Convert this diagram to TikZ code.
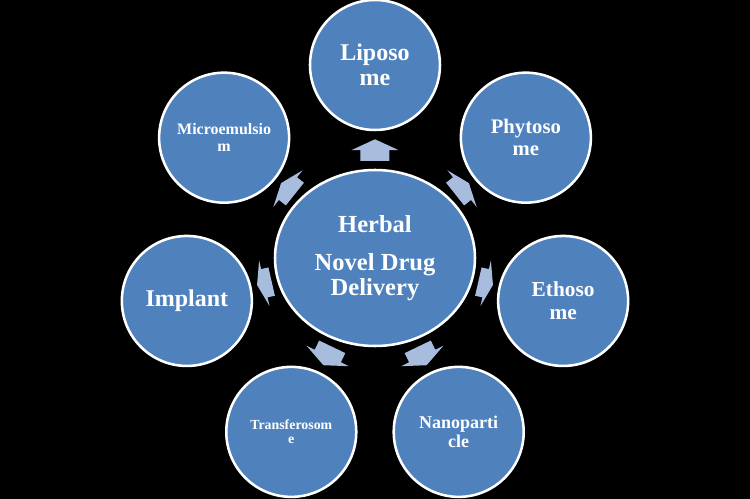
\documentclass[tikz,border=0pt]{standalone}
\usepackage{fontspec}
\setmainfont{Liberation Serif}
\usepackage{tikz}
\usetikzlibrary{
  shapes.geometric,
  positioning,
  calc
}
\definecolor{smartblue}{RGB}{79,129,189}
\definecolor{arrowblue}{RGB}{168,188,222}
\newcommand{\satfont}[2]{\fontsize{#1pt}{#2pt}\selectfont\bfseries}

\begin{document}
\begin{tikzpicture}[
    x=0.75pt, y=0.75pt,
    satellite/.style={circle, draw=white, line width=1.9pt, fill=smartblue,
      minimum size=97.5pt, inner sep=0pt, text=white, align=center},
    hubnode/.style={ellipse, draw=white, line width=1.9pt, fill=smartblue,
      minimum width=150pt, minimum height=132pt, inner sep=0pt,
      text=white, align=center},
    blockarrow/.style={fill=arrowblue}
  ]
  \def\R{193} % ring radius (px)

  % Background
  \useasboundingbox (-375,-241) rectangle (375,258);
  \fill[black] (-375,-241) rectangle (375,258);

  % Centre
  \node[hubnode, font=\satfont{18.4}{18.8}] (hub) at (0,0)
    {Herbal\\[9.75pt]Novel Drug\\Delivery};

  % Satellites, 360/7 degrees apart
  \node[satellite, font=\satfont{18}{18.5}] (lipo) at ({90}:\R) {Liposo\\me};
  \node[satellite, font=\satfont{15.5}{16.5}] (phyto) at ({38.57}:\R) {Phytoso\\me};
  \node[satellite, font=\satfont{16}{17.2}] (etho) at ({-12.86}:\R) {Ethoso\\me};
  \node[satellite, font=\satfont{13.5}{14.3}] (nano) at ({-64.29}:\R) {Nanoparti\\cle};
  \node[satellite, font=\satfont{10.4}{10.4}] (trans) at ({-115.71}:\R) {Transferosom\\e};
  \node[satellite, font=\satfont{18}{18.5}] (impl) at ({-167.14}:\R) {Implant};
  \node[satellite, font=\satfont{12}{12.8}] (micro) at ({141.43}:\R) {Microemulsio\\m};

  % Block arrows from centre to satellites (distance / half length fit the gap)
  \foreach \sat/\a/\d/\h in {lipo/90/107.9/10.8, phyto/38.57/111.3/8.8,
                             etho/-12.86/113.5/7.5, nano/-64.29/108.8/10.2,
                             trans/-115.71/108.8/10.2, impl/-167.14/113.5/7.5,
                             micro/141.43/111.3/8.8} {
    \fill[blockarrow, shift={($(hub)+(\a:\d)$)}, rotate=\a]
      (-\h,-14.5) -- (0,-14.5) -- (0,-23.5) -- (\h,0) -- (0,23.5) -- (0,14.5)
      -- (-\h,14.5) -- cycle;
  }
\end{tikzpicture}
\end{document}
